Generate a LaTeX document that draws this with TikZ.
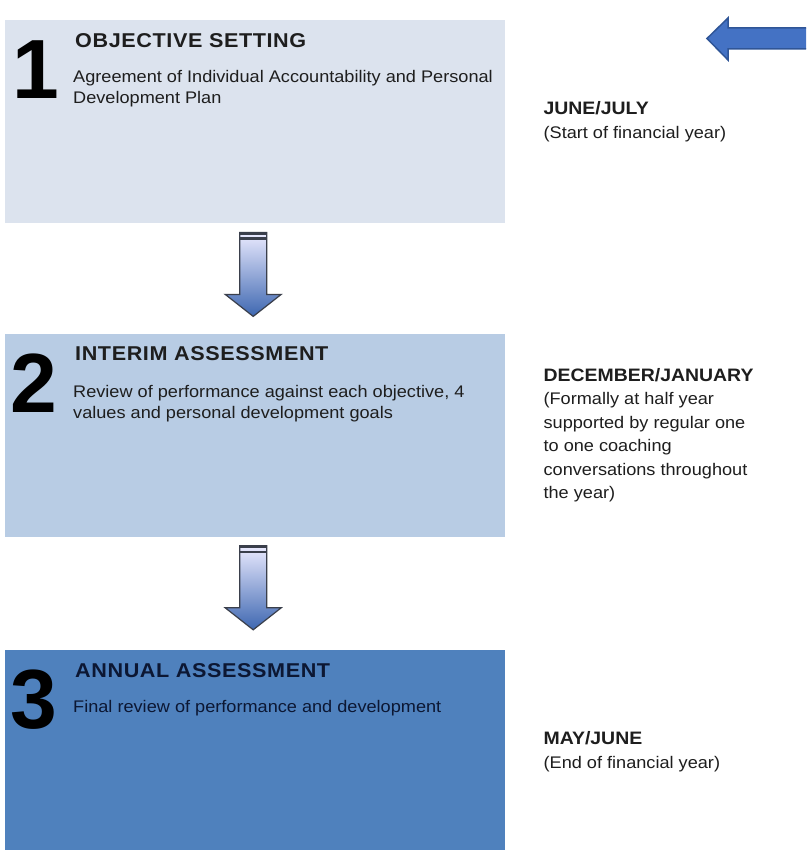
\documentclass[tikz,border=0pt]{standalone}
\usepackage{fontspec}
\setmainfont{Liberation Sans}[FakeStretch=1.08]
\newfontfamily\numfont{Liberation Sans}
\usetikzlibrary{positioning, calc}
\definecolor{boxOne}{HTML}{DCE3EE}
\definecolor{boxTwo}{HTML}{B8CCE4}
\definecolor{boxThree}{HTML}{4F81BD}
\definecolor{arrowBlue}{HTML}{4472C4}
\definecolor{arrowEdge}{HTML}{2F5597}
\definecolor{flowEdge}{HTML}{3A3F4B}
\definecolor{textDark}{HTML}{1E1E1E}
\definecolor{textNavy}{HTML}{0C1733}

\begin{document}
\begin{tikzpicture}[x=1pt, y=-1pt,
  stage/.style={anchor=north west, minimum width=500pt, minimum height=203pt, inner sep=0pt},
  stagenum/.style={anchor=base west, inner sep=0pt, font=\numfont\bfseries\fontsize{84}{84}\selectfont},
  stagetitle/.style={anchor=base west, inner sep=0pt, text=textDark,
                     font=\bfseries\fontsize{20}{24}\selectfont\addfontfeature{LetterSpace=3}},
  stagetext/.style={anchor=base west, inner sep=0pt, align=left, text=textDark,
                    font=\fontsize{16.8}{21}\selectfont},
  timing/.style={inner sep=0pt, align=left, text=textDark, font=\fontsize{16.8}{23.5}\selectfont},
  flowarrow/.style={draw=flowEdge, line width=1.2pt, top color=blue!8!white, bottom color=arrowBlue!90!black},
  pointer/.style={fill=arrowBlue, draw=arrowEdge, line width=1.5pt}
]
\useasboundingbox[fill=white] (0,0) rectangle (806,850);

% the three stages
\node[stage, fill=boxOne] (objective) at (5,20) {};
\node[stage, fill=boxTwo, below=110pt of objective.south west, anchor=north west] (interim) {};
\node[stage, fill=boxThree, below=113pt of interim.south west, anchor=north west] (annual) {};

% base of a two-line text is its last line
\node[stagenum] (one) at ($(objective.north west)+(7,79)$) {1};
\node[stagetitle] (objtitle) at ($(objective.north west)+(70,27.5)$) {OBJECTIVE SETTING};
\node[stagetext] (objtext) at ($(objective.north west)+(68,84)$)
  {Agreement of Individual Accountability and Personal\\Development Plan};

\node[stagenum] (two) at ($(interim.north west)+(5,79)$) {2};
\node[stagetitle] (inttitle) at ($(interim.north west)+(70,27.5)$) {INTERIM ASSESSMENT};
\node[stagetext] (inttext) at ($(interim.north west)+(68,85)$)
  {Review of performance against each objective, 4\\values and personal development goals};

\node[stagenum] (three) at ($(annual.north west)+(5,79)$) {3};
\node[stagetitle, text=textNavy] (anntitle) at ($(annual.north west)+(70,27.5)$) {ANNUAL ASSESSMENT};
\node[stagetext, text=textNavy] (anntext) at ($(annual.north west)+(68,63)$)
  {Final review of performance and development};

% timing on the right
\node[timing, right=38pt of objective.east] (junejuly)
  {\textbf{\fontsize{18}{23.5}\selectfont JUNE/JULY}\\(Start of financial year)};
\node[timing, right=38pt of interim.east] (decjan)
  {\textbf{\fontsize{18}{23.5}\selectfont DECEMBER/JANUARY}\\(Formally at half year\\supported by regular one\\to one coaching\\conversations throughout\\the year)};
\node[timing, right=38pt of annual.east] (mayjune)
  {\textbf{\fontsize{18}{23.5}\selectfont MAY/JUNE}\\(End of financial year)};

% arrows between stages
\foreach \a in {objective, interim}{
  \coordinate (top) at ($(\a.south)+(-2,9)$);
  \begin{scope}[shift={(top)}]
    \draw[flowarrow] (-13.5,0) -- (-13.5,62) -- (-28,62) -- (0,84) -- (28,62) -- (13.5,62) -- (13.5,0) -- cycle;
    \fill[flowEdge] (-13.5,0) rectangle (13.5,2.5);
    \fill[flowEdge] (-13.5,5) rectangle (13.5,7.5);
  \end{scope}
}

\draw[pointer] (806,28) -- (728,28) -- (728,18) -- (707,38.5) -- (728,60) -- (728,49) -- (806,49);
\end{tikzpicture}
\end{document}
